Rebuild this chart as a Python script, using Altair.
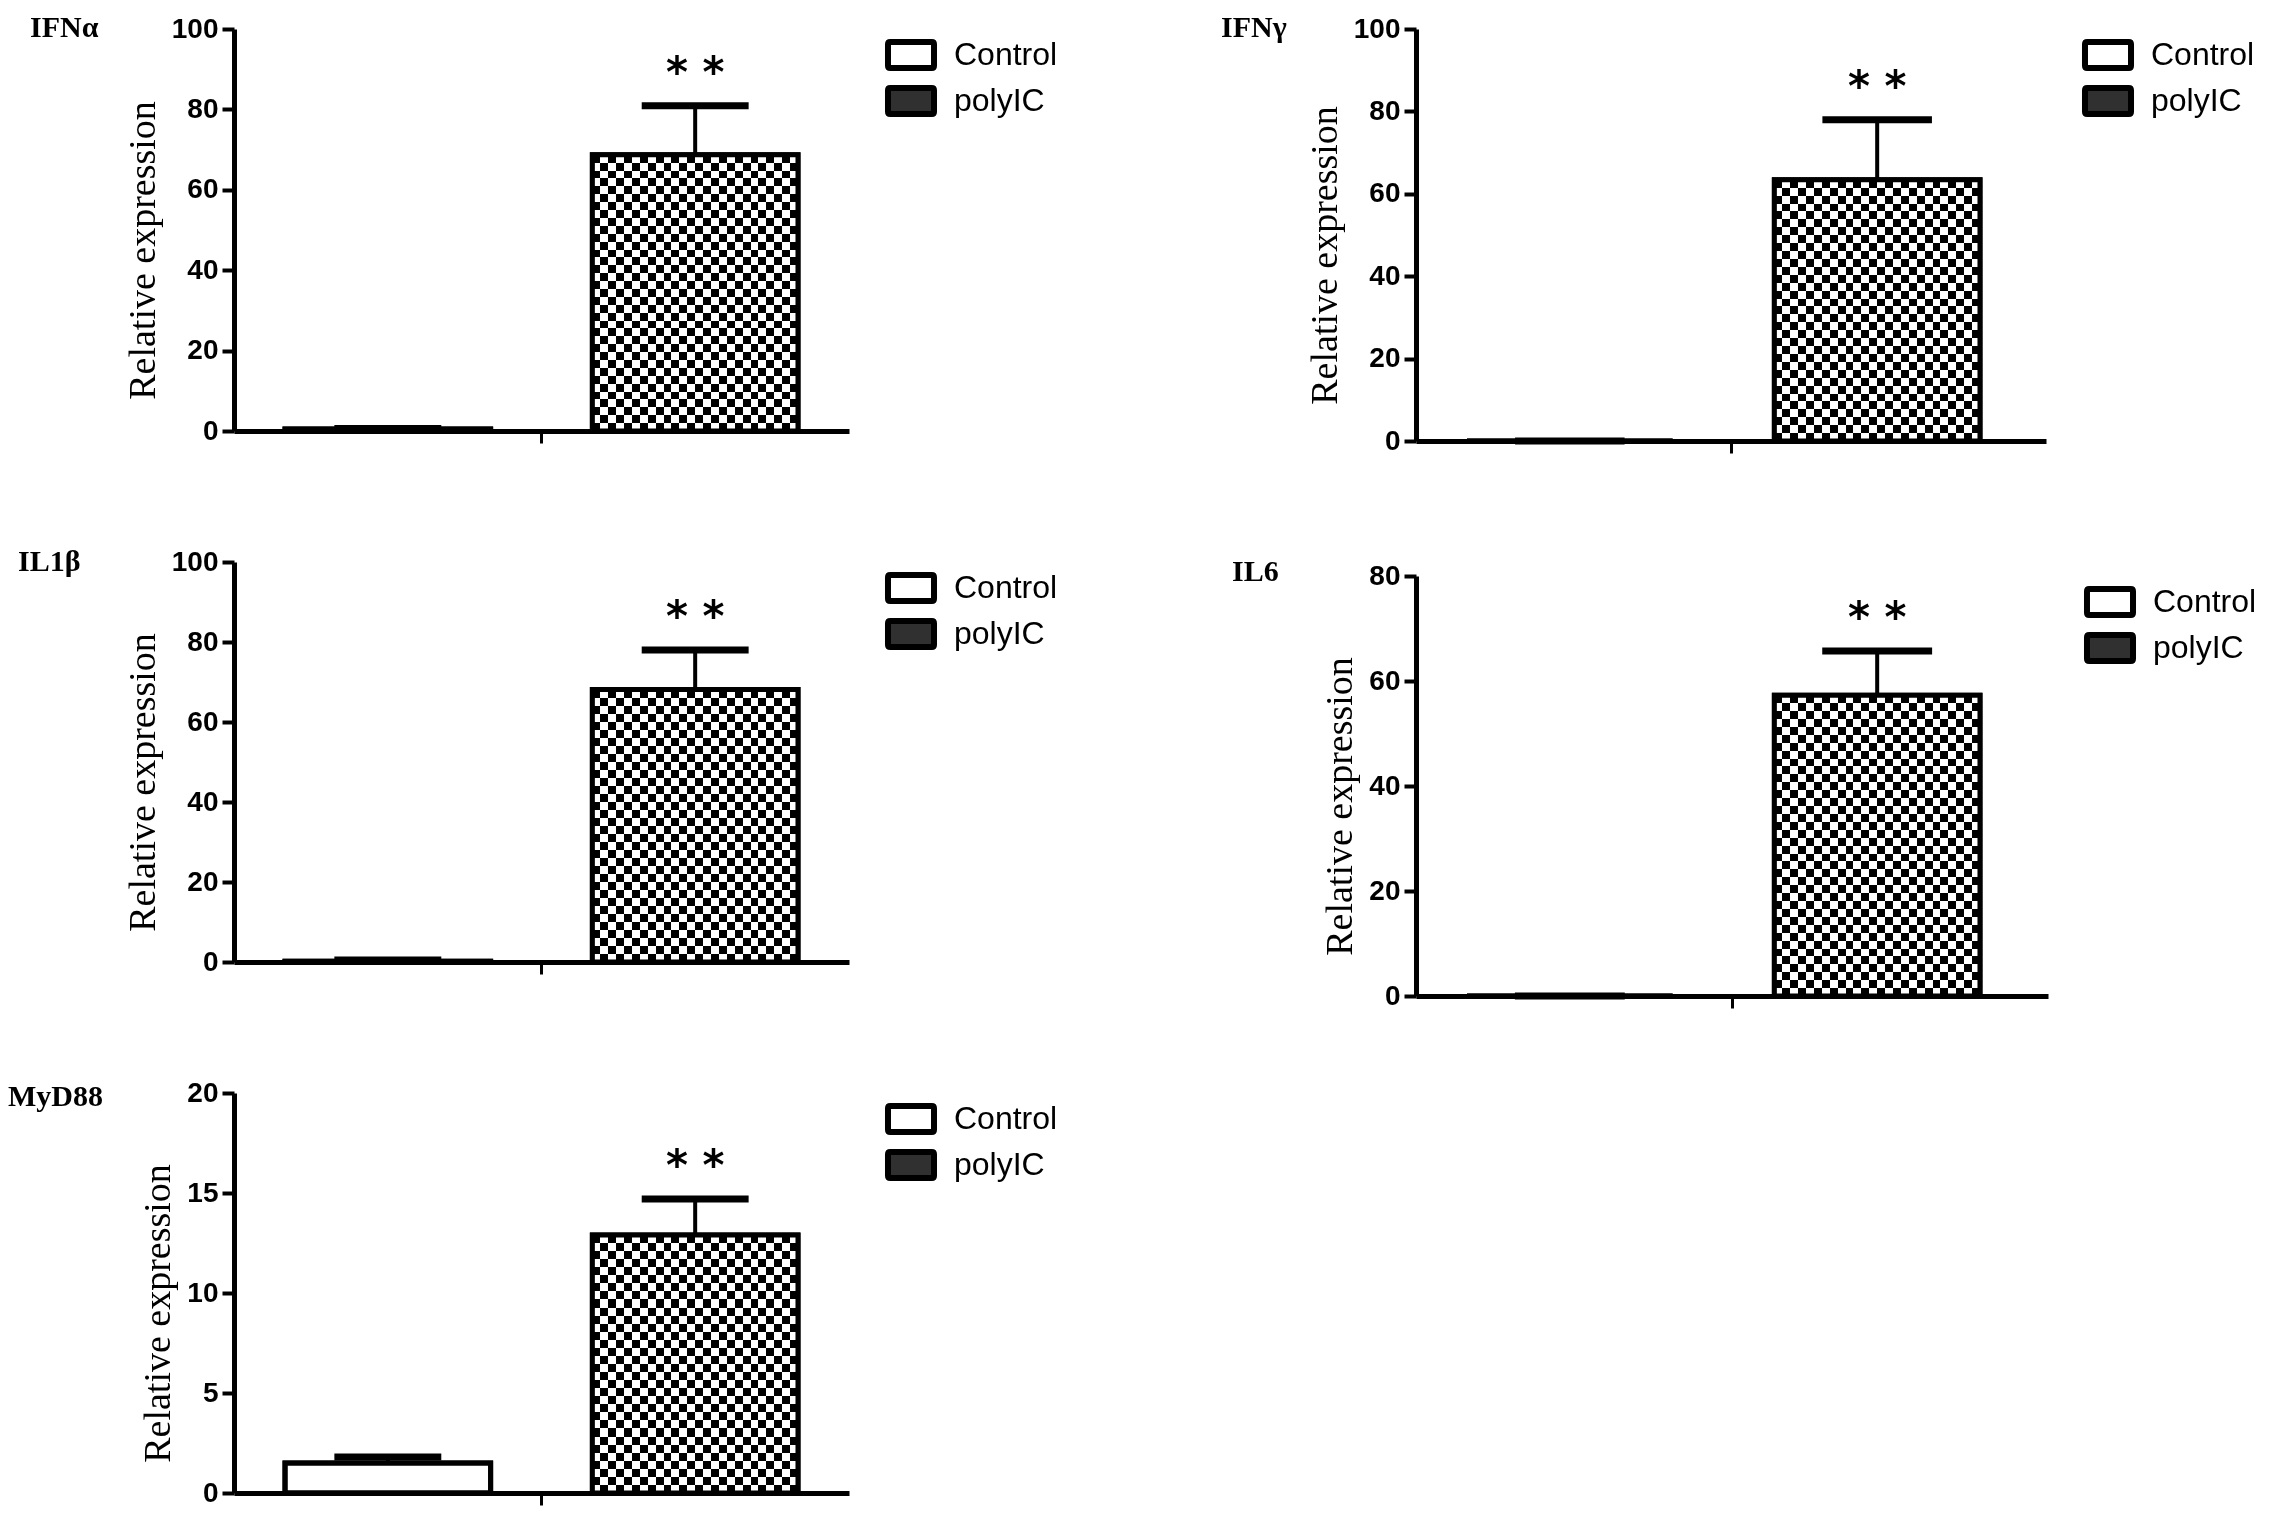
import altair as alt
import pandas as pd

# ---- data ----
genes = ["IFNα", "IFNγ", "IL1β", "IL6", "MyD88"]
groups = ["Control", "polyIC"]
control_mean = [0.5, 0.0, 0.2, 0.0, 1.5]
control_sd = [0.1, 0.0, 0.3, 0.0, 0.3]
polyic_mean = [68.7, 63.4, 68.1, 57.3, 12.9]
polyic_sd = [12.2, 14.6, 9.9, 8.4, 1.8]
significance = ["", "**"]
y_max = [100, 100, 100, 80, 20]
y_ticks = [
    [0, 20, 40, 60, 80, 100],
    [0, 20, 40, 60, 80, 100],
    [0, 20, 40, 60, 80, 100],
    [0, 20, 40, 60, 80],
    [0, 5, 10, 15, 20],
]
y_title = "Relative expression"

# ---- style ----
PAD_IN = 0.331
PAD_OUT = 0.166
CELL = 8  # checkerboard cell size in px
SWATCH = ("M-1.6,-1H1.6Q1.77,-1 1.77,-0.83V0.83Q1.77,1 1.6,1"
          "H-1.6Q-1.77,1 -1.77,0.83V-0.83Q-1.77,-1 -1.6,-1Z")


def stripes(n, vertical):
    stops = []
    for k in range(n):
        c = "black" if k % 2 == 0 else "white"
        stops.append(alt.GradientStop(offset=k / n, color=c))
        stops.append(alt.GradientStop(offset=(k + 1) / n, color=c))
    if vertical:
        return alt.LinearGradient(gradient="linear", stops=stops, x1=0, x2=1, y1=0, y2=0)
    return alt.LinearGradient(gradient="linear", stops=stops, x1=0, x2=0, y1=0, y2=1)


def panel(i, width, height, title_dx, title_dy):
    df = pd.DataFrame({
        "gene": [genes[i]] * 2,
        "group": groups,
        "mean": [control_mean[i], polyic_mean[i]],
        "upper": [control_mean[i] + control_sd[i], polyic_mean[i] + polyic_sd[i]],
        "sig": significance,
    })
    step = width / (2 - PAD_IN + 2 * PAD_OUT)
    bar_w = step * (1 - PAD_IN)
    bar_h = polyic_mean[i] / y_max[i] * height
    cap_w = bar_w * 0.52

    x = alt.X(
        "gene:N",
        scale=alt.Scale(paddingInner=0, paddingOuter=0),
        axis=alt.Axis(labels=False, title=None, ticks=True, tickSize=12, tickWidth=3,
                      tickColor="black", domainColor="black", domainWidth=5, grid=False),
    )
    xo = alt.XOffset("group:N", scale=alt.Scale(domain=groups, paddingInner=PAD_IN, paddingOuter=PAD_OUT))
    yscale = alt.Scale(domain=[0, y_max[i]], nice=False, zero=True)
    yaxis = alt.Axis(
        values=y_ticks[i], grid=False, title=y_title,
        labelFont="Liberation Sans", labelFontWeight="bold", labelFontSize=28, labelColor="black",
        labelPadding=4, tickColor="black", tickWidth=4, tickSize=12,
        domainColor="black", domainWidth=5,
        titleFont="Liberation Serif", titleFontWeight="normal", titleFontSize=38,
        titleColor="black", titlePadding=9, titleY=height / 2 + 20,
    )
    y = alt.Y("mean:Q", scale=yscale, axis=yaxis, stack=None)

    base = alt.Chart(df).encode(x=x, xOffset=xo)

    bars = base.mark_bar(stroke="black", strokeWidth=5, opacity=1).encode(
        y=y,
        fill=alt.Fill(
            "group:N",
            scale=alt.Scale(domain=groups, range=["white", "#303030"]),
            legend=alt.Legend(
                title=None, orient="none", legendX=width + 46, legendY=10,
                symbolType=SWATCH, symbolSize=676,
                symbolStrokeColor="black", symbolStrokeWidth=6,
                labelFont="Liberation Sans", labelFontSize=32, labelColor="black",
                labelOffset=27, rowPadding=-4, padding=0,
            ),
        ),
    )
    poly = base.transform_filter(alt.datum.group == "polyIC")
    vstr = poly.mark_bar(fill=stripes(max(2, round(bar_w / CELL)), True), opacity=1).encode(y=y)
    hstr = poly.mark_bar(fill=stripes(max(2, round(bar_h / CELL)), False), blend="difference",
                         opacity=1).encode(y=y)
    border = base.mark_bar(fill="transparent", stroke="black", strokeWidth=5, opacity=1).encode(y=y)
    err = base.mark_rule(color="black", strokeWidth=4, opacity=1).encode(
        y=alt.Y("mean:Q", stack=None), y2="upper:Q")
    cap = base.mark_tick(color="black", thickness=7, size=cap_w, opacity=1).encode(
        y=alt.Y("upper:Q", stack=None))
    stars = poly.transform_calculate(label="join(split(datum.sig, ''), ' ')").mark_text(
        font="DejaVu Sans", fontSize=42, fontWeight="bold", color="black",
        baseline="alphabetic", dy=-19
    ).encode(y=alt.Y("upper:Q", stack=None), text="label:N")

    return alt.layer(bars, vstr, hstr, border, err, cap, stars).properties(
        width=width, height=height,
        title=alt.TitleParams(
            text=genes[i], anchor="start", frame="group", dx=title_dx, dy=title_dy,
            font="Liberation Serif", fontSize=30, fontWeight="bold", color="black",
            baseline="alphabetic", offset=0,
        ),
    )


p1 = panel(0, 615, 402, -204, 52)
p2 = panel(1, 630, 412, -195, 52)
p3 = panel(2, 615, 400, -216, 53)
p4 = panel(3, 632, 420, -184, 49)
p5 = panel(4, 615, 400, -226, 57)

left = alt.vconcat(p1, p3, p5, spacing=131, bounds="flush").resolve_scale(
    fill="independent").resolve_legend(fill="independent")
right = alt.vconcat(p2, p4, spacing=135, bounds="flush").resolve_scale(
    fill="independent").resolve_legend(fill="independent")
chart = alt.hconcat(left, right, spacing=1182, bounds="flush").resolve_scale(
    fill="independent").resolve_legend(fill="independent").properties(
    padding={"top": 5, "left": 0, "right": 0, "bottom": 0}, background="white"
).configure_view(stroke=None)

chart.save("out.html", embed_options={"renderer": "svg", "actions": False})
